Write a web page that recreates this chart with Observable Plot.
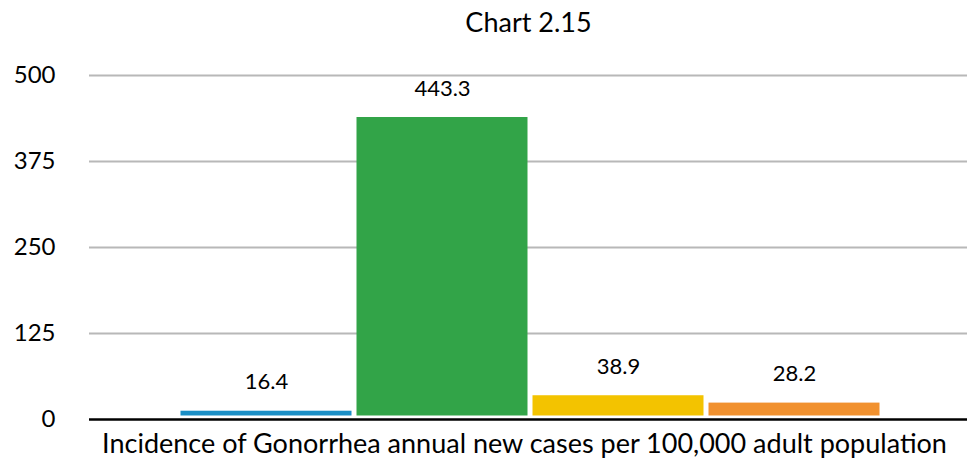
<!DOCTYPE html>
<html>
<head>
<meta charset="utf-8">
<script src="https://cdn.jsdelivr.net/npm/d3@7"></script>
<script src="https://cdn.jsdelivr.net/npm/@observablehq/plot@0.6"></script>
<style>
  html, body { margin: 0; padding: 0; background: #fff; }
  #chart svg { display: block; }
</style>
</head>
<body>
<div id="chart"></div>
<script>
const titleText = "Chart 2.15";
const categoryLabel = "Incidence of Gonorrhea annual new cases per 100,000 adult population";
const series = ["Series 1", "Series 2", "Series 3", "Series 4"];
const values = [16.4, 443.3, 38.9, 28.2];
const colors = ["#1b8fc6", "#32a448", "#f3c300", "#f1912f"];
const yTicks = [0, 125, 250, 375, 500];

const data = series.map((s, i) => ({series: s, value: values[i]}));

const chart = Plot.plot({
  width: 967,
  height: 467,
  marginLeft: 89,
  marginRight: 0,
  marginTop: 75,
  marginBottom: 48,
  style: {fontFamily: "Lato, sans-serif", color: "#000", background: "#fff"},
  x: {domain: series, paddingInner: 0, paddingOuter: 0.4837, align: 0.512, axis: null},
  y: {domain: [0, 500], ticks: yTicks},
  color: {domain: series, range: colors},
  marks: [
    Plot.gridY(yTicks.filter(d => d > 0), {stroke: "#b8b8b8", strokeOpacity: 1, strokeWidth: 2}),
    Plot.axisY({ticks: yTicks, tickSize: 0, tickPadding: 34, fontSize: 24, label: null, fill: "#000"}),
    Plot.barY(data, {x: "series", y: "value", fill: "series", insetLeft: 2.5, insetRight: 2.5, insetTop: 3, insetBottom: 3.5}),
    Plot.ruleY([0], {stroke: "#000", strokeWidth: 2.5}),
    Plot.text(data, {x: "series", y: "value", text: d => d.value.toFixed(1), dy: -26, fontSize: 22, fill: "#000"}),
    Plot.text([titleText], {frameAnchor: "top", dy: -63, fontSize: 27, fill: "#000"}),
    Plot.text([categoryLabel], {frameAnchor: "bottom", dx: -4, dy: 33, fontSize: 27, fill: "#000"})
  ]
});
document.getElementById("chart").appendChild(chart);
</script>
</body>
</html>
